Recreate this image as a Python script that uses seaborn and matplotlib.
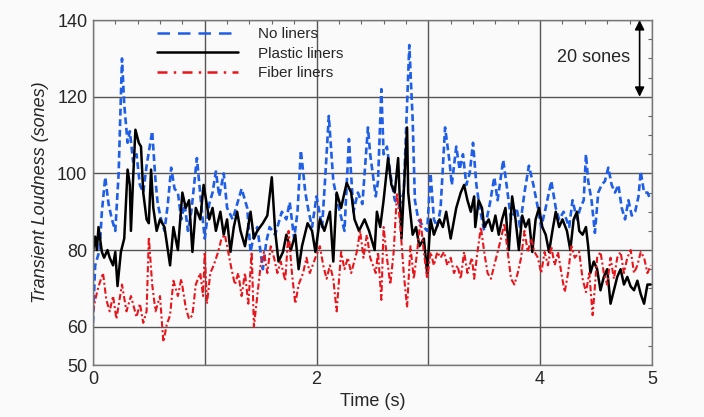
import numpy as np
import pandas as pd
import matplotlib
matplotlib.use("Agg")
import matplotlib.pyplot as plt
import seaborn as sns
from matplotlib.ticker import MultipleLocator, FixedLocator

# ---------------- data ----------------
series_names = ["No liners", "Plastic liners", "Fiber liners"]

t_no = [0.00, 0.02, 0.06, 0.08, 0.11, 0.14, 0.17, 0.20, 0.23, 0.26, 0.28, 0.31, 0.33, 0.36, 0.39,
        0.42, 0.45, 0.48, 0.53, 0.56, 0.58, 0.61, 0.64, 0.67, 0.70, 0.73, 0.76, 0.79, 0.82, 0.85,
        0.88, 0.93, 0.97, 1.00, 1.04, 1.07, 1.10, 1.13, 1.17, 1.20, 1.25, 1.29, 1.33, 1.38, 1.41,
        1.44, 1.47, 1.52, 1.55, 1.58, 1.63, 1.69, 1.73, 1.76, 1.80, 1.83, 1.86, 1.90, 1.93, 1.96,
        2.00, 2.05, 2.08, 2.11, 2.15, 2.20, 2.25, 2.29, 2.33, 2.37, 2.41, 2.46, 2.48, 2.53, 2.55,
        2.58, 2.60, 2.63, 2.66, 2.70, 2.74, 2.78, 2.83, 2.86, 2.88, 2.91, 2.96, 2.99, 3.02, 3.05,
        3.08, 3.11, 3.15, 3.19, 3.21, 3.25, 3.28, 3.31, 3.34, 3.37, 3.40, 3.43, 3.46, 3.50, 3.55,
        3.59, 3.62, 3.67, 3.70, 3.74, 3.79, 3.82, 3.86, 3.90, 3.94, 3.98, 4.01, 4.05, 4.10, 4.14,
        4.17, 4.21, 4.26, 4.29, 4.33, 4.36, 4.39, 4.41, 4.43, 4.46, 4.49, 4.52, 4.55, 4.58, 4.61,
        4.64, 4.67, 4.70, 4.73, 4.76, 4.79, 4.82, 4.85, 4.88, 4.90, 4.93, 4.96, 4.99]
v_no = [61, 76, 80, 90, 99, 92, 88, 85, 100, 130, 118, 108, 111, 103, 105,
        97, 95, 102, 111, 98, 92, 88, 85, 92, 101.5, 96, 95, 88, 92, 85,
        90, 104, 91.5, 83, 92, 95, 100.5, 94, 100, 91, 88, 92, 96, 91, 79.5,
        84, 86, 75, 82, 86, 84, 90, 88, 92.5, 83, 90, 106, 95, 90, 86,
        94, 86, 100, 115, 98, 91, 85, 109, 90, 95, 92, 112, 105, 94, 98,
        122, 105, 107, 100, 93, 91.5, 95, 133.5, 114, 93, 88, 86, 85, 100, 88,
        86, 91, 112, 103, 97, 107, 101, 105, 97, 100, 108, 97, 91, 85, 92,
        99, 93, 103.5, 97, 88, 91, 86, 95, 102, 97, 91, 86, 91, 98, 91,
        88, 90, 86, 93, 88, 91, 93, 105, 98, 93, 84.5, 95, 97, 98, 101.5,
        97, 95, 97, 91, 88, 93, 89, 90, 94, 100.5, 95, 95, 93]

t_plastic = [0.00, 0.02, 0.035, 0.05, 0.08, 0.10, 0.13, 0.15, 0.18, 0.20, 0.22, 0.25, 0.28, 0.31,
             0.33, 0.34, 0.36, 0.38, 0.41, 0.43, 0.45, 0.48, 0.50, 0.52, 0.54, 0.57, 0.60, 0.64,
             0.69, 0.72, 0.76, 0.80, 0.83, 0.86, 0.89, 0.92, 0.96, 0.99, 1.04, 1.07, 1.10, 1.14,
             1.17, 1.20, 1.23, 1.26, 1.29, 1.32, 1.36, 1.41, 1.44, 1.47, 1.52, 1.56, 1.60, 1.63,
             1.66, 1.70, 1.73, 1.77, 1.81, 1.84, 1.87, 1.92, 1.96, 1.99, 2.03, 2.07, 2.12, 2.15,
             2.18, 2.22, 2.25, 2.27, 2.31, 2.34, 2.38, 2.43, 2.47, 2.52, 2.54, 2.57, 2.60, 2.64,
             2.67, 2.70, 2.73, 2.76, 2.78, 2.81, 2.82, 2.86, 2.89, 2.92, 2.96, 2.99, 3.02, 3.05,
             3.10, 3.13, 3.16, 3.20, 3.25, 3.29, 3.32, 3.35, 3.38, 3.41, 3.42, 3.45, 3.48, 3.50,
             3.54, 3.57, 3.60, 3.63, 3.66, 3.69, 3.72, 3.75, 3.78, 3.81, 3.84, 3.87, 3.90, 3.93,
             3.96, 3.99, 4.02, 4.05, 4.08, 4.11, 4.14, 4.17, 4.20, 4.24, 4.27, 4.30, 4.33, 4.35,
             4.38, 4.41, 4.43, 4.45, 4.48, 4.51, 4.54, 4.57, 4.60, 4.63, 4.66, 4.69, 4.72, 4.75,
             4.78, 4.81, 4.84, 4.87, 4.90, 4.93, 4.96, 4.99]
v_plastic = [79.5, 83.5, 80, 86, 79.5, 78, 80, 78, 76, 79.5, 70.6, 79.5, 83, 101,
             97, 85, 99, 111.4, 108, 107, 95, 88, 87, 101, 91, 85, 88, 86,
             76, 86, 80, 95, 91, 93, 79.5, 91, 88, 97, 88, 91, 85, 90,
             84, 88, 79.5, 86, 90, 85, 81, 90, 83, 85, 87, 89, 99, 85,
             77, 79.5, 84, 80, 84, 75, 81, 87, 85, 79.5, 88, 85, 90, 77,
             95, 91, 95, 97.5, 95, 88, 85, 88, 85, 80, 90, 86, 93, 104,
             97, 95, 104, 83, 95, 112, 95, 84, 86, 81, 83, 74, 88, 84,
             88, 86, 90, 83, 91, 95, 97, 93, 90, 94, 86, 93, 91, 86,
             88, 85, 89, 84, 88, 91, 80, 94, 88, 80, 89, 86, 88, 79.5,
             88, 91, 86, 84, 79.5, 85, 90, 86, 88, 85, 80, 88, 90, 85,
             84, 86, 81, 74, 77, 75, 69.5, 73, 75, 66, 69.5, 73, 75, 71,
             73, 70.5, 69.5, 72, 68.5, 66, 71, 71]

t_fiber = [0.00, 0.02, 0.05, 0.09, 0.12, 0.15, 0.18, 0.21, 0.26, 0.30, 0.34, 0.39, 0.42, 0.45,
           0.48, 0.50, 0.53, 0.56, 0.60, 0.62, 0.63, 0.66, 0.69, 0.72, 0.76, 0.79, 0.83, 0.86,
           0.89, 0.92, 0.96, 0.985, 1.00, 1.02, 1.05, 1.08, 1.12, 1.15, 1.18, 1.21, 1.24, 1.27,
           1.30, 1.33, 1.36, 1.39, 1.42, 1.44, 1.47, 1.50, 1.53, 1.56, 1.59, 1.62, 1.65, 1.68,
           1.72, 1.75, 1.78, 1.81, 1.84, 1.88, 1.91, 1.94, 1.99, 2.03, 2.06, 2.09, 2.12, 2.15,
           2.18, 2.22, 2.25, 2.28, 2.31, 2.36, 2.39, 2.42, 2.45, 2.48, 2.53, 2.55, 2.58, 2.60,
           2.63, 2.66, 2.69, 2.72, 2.75, 2.78, 2.81, 2.84, 2.87, 2.90, 2.93, 2.96, 2.99, 3.02,
           3.05, 3.08, 3.11, 3.14, 3.17, 3.20, 3.23, 3.26, 3.29, 3.32, 3.35, 3.39, 3.41, 3.44,
           3.47, 3.50, 3.53, 3.56, 3.59, 3.62, 3.65, 3.68, 3.71, 3.74, 3.77, 3.80, 3.83, 3.86,
           3.89, 3.92, 3.95, 3.98, 4.01, 4.04, 4.07, 4.10, 4.13, 4.16, 4.19, 4.22, 4.25, 4.28,
           4.31, 4.35, 4.38, 4.41, 4.44, 4.47, 4.51, 4.54, 4.57, 4.60, 4.63, 4.66, 4.69, 4.72,
           4.75, 4.78, 4.81, 4.84, 4.87, 4.90, 4.93, 4.96, 4.99]
v_fiber = [63.8, 67, 70.5, 74, 67, 64, 68, 62, 71, 64, 68, 62.5, 66, 61,
           64, 83.4, 71, 64, 68, 60, 56, 60.5, 63, 72, 68, 72.5, 65, 62,
           63, 71, 74, 68, 79.5, 66, 74, 76, 79.5, 83, 84, 79.5, 75, 71,
           74, 68, 74, 66, 79.5, 60, 68, 76, 79.5, 74, 81, 78, 74, 77,
           72, 85, 74, 66, 71, 74, 78, 74, 78, 81, 76, 72.5, 76, 72.5,
           64, 79.5, 75, 78, 74, 79.5, 85, 78, 84, 78, 74, 79.5, 67, 86,
           78, 71, 79.5, 95, 86, 74, 65, 81, 72.5, 79.5, 88, 79.5, 72.5, 79.5,
           76, 79.5, 78, 79.5, 76, 78, 74, 76, 72.5, 79.5, 74, 78, 72.5, 79.5,
           86, 79.5, 74, 72.5, 76, 79.5, 83, 87, 79.5, 72.5, 71, 74, 78, 85,
           79.5, 83, 79.5, 78, 74, 79.5, 76, 81, 76, 79.5, 74, 69, 74, 81,
           78, 79.5, 72.5, 69, 74, 63, 78, 79.5, 74, 71, 78, 72.5, 78, 79.5,
           74, 78, 80, 74, 76, 79.5, 78, 74, 76]

y_ticks = [50, 60, 80, 100, 120, 140]
x_ticks = [0, 1, 2, 3, 4, 5]
x_ticklabels = ["0", "", "2", "", "4", "5"]

colors = {"No liners": "#1f5ee6", "Plastic liners": "#000000", "Fiber liners": "#e8151b"}
styles = {"No liners": (0, (2.6, 1.4)), "Plastic liners": "-", "Fiber liners": (0, (3.0, 1.3, 1.0, 1.3))}
legend_styles = {"No liners": (0, (5.0, 3.2)), "Plastic liners": "-", "Fiber liners": (0, (4.0, 2.5, 1.0, 2.5))}
widths = {"No liners": 1.9, "Plastic liners": 1.8, "Fiber liners": 1.5}

frames = []
for name, t, v in [("No liners", t_no, v_no), ("Plastic liners", t_plastic, v_plastic),
                   ("Fiber liners", t_fiber, v_fiber)]:
    frames.append(pd.DataFrame({"time": t, "loud": v, "series": name}))
df = pd.concat(frames, ignore_index=True)

# ---------------- figure ----------------
sns.set_style("white")
plt.rcParams["font.family"] = ["Liberation Sans", "DejaVu Sans"]

fig = plt.figure(figsize=(7.04, 4.17), dpi=100, facecolor="#fafafa")
ax = fig.add_axes([0.132, 0.1247, 0.794, 0.827])
ax.set_facecolor("#fafafa")

for name in series_names:
    sub = df[df["series"] == name]
    sns.lineplot(data=sub, x="time", y="loud", ax=ax, color=colors[name],
                 linestyle=styles[name], linewidth=widths[name], sort=False,
                 estimator=None, label=name)

ax.set_xlim(0, 5)
ax.set_ylim(50, 140)
ax.xaxis.set_major_locator(FixedLocator(x_ticks))
ax.set_xticklabels(x_ticklabels)
ax.yaxis.set_major_locator(FixedLocator(y_ticks))
ax.set_yticklabels([str(v) for v in y_ticks])
ax.xaxis.set_minor_locator(MultipleLocator(0.2))
ax.yaxis.set_minor_locator(MultipleLocator(5))
ax.tick_params(which="both", direction="in", top=True, right=True, color="#666666")
ax.tick_params(which="major", length=0, labelsize=13, pad=4)
ax.tick_params(which="minor", length=3, width=0.8)
ax.grid(True, which="major", color="#555555", linewidth=1.0)
for s in ax.spines.values():
    s.set_color("#777777")
    s.set_linewidth(1.0)

ax.set_xlabel("Time (s)", fontsize=13, labelpad=4)
ax.set_ylabel("Transient Loudness (sones)", fontsize=13, style="italic", labelpad=6)

leg = ax.legend(loc="upper left", bbox_to_anchor=(0.095, 1.01), frameon=False, fontsize=11,
                handlelength=5.3, handletextpad=1.3, labelspacing=0.35, borderaxespad=0.3)
for line, name in zip(leg.get_lines(), series_names):
    line.set_linewidth(1.8)
    line.set_linestyle(legend_styles[name])

ax.annotate("", xy=(4.89, 120), xytext=(4.89, 140),
            arrowprops=dict(arrowstyle="<|-|>", color="black", lw=1.2,
                            mutation_scale=14, shrinkA=0, shrinkB=0))
ax.text(4.48, 130.3, "20 sones", fontsize=13, ha="center", va="center")

fig.savefig("out.png", dpi=100, facecolor=fig.get_facecolor())
